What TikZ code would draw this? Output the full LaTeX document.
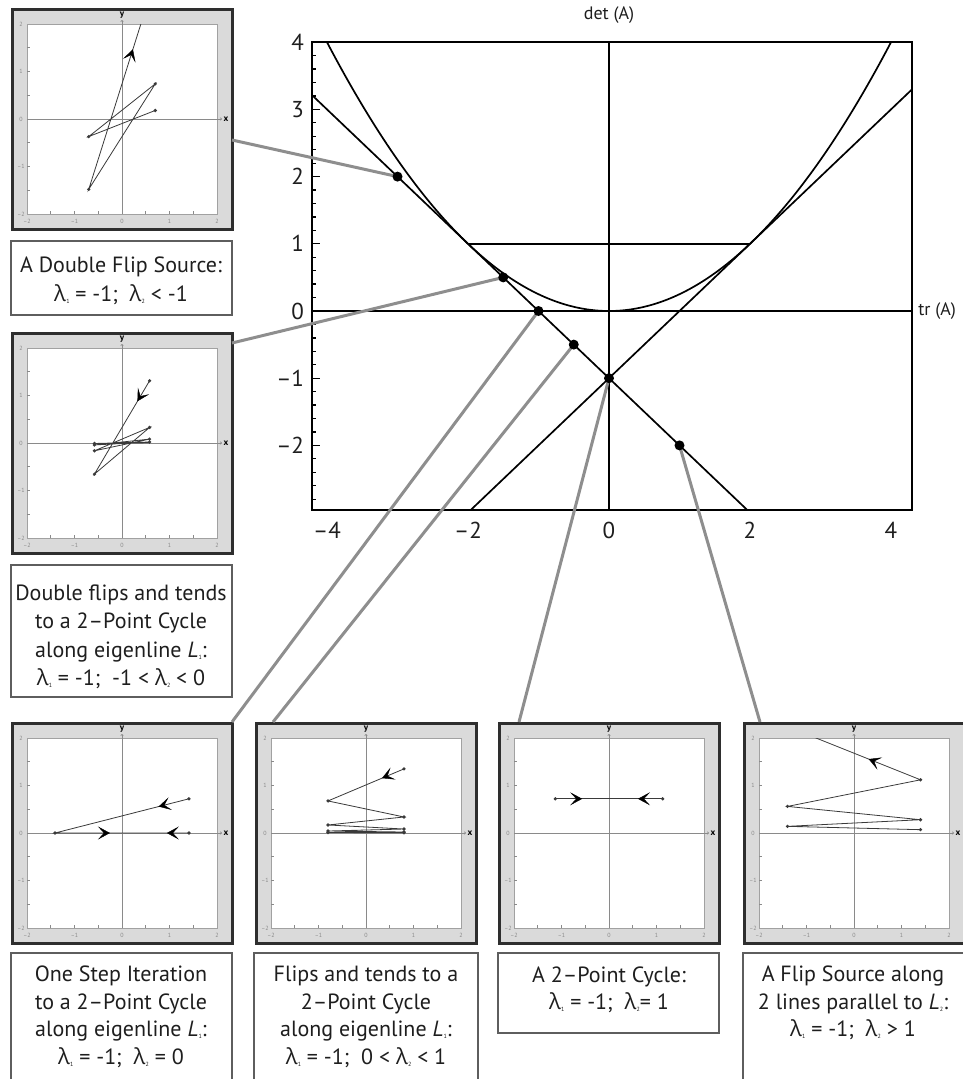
\documentclass[tikz,border=0pt]{standalone}
\usepackage{fontspec}
\setmainfont{PT Sans}
\newfontfamily\grkfont{Open Sans}
\usetikzlibrary{arrows.meta,decorations.markings}

\definecolor{bandgray}{HTML}{DADADA}
\definecolor{framedark}{HTML}{2E2E2E}
\definecolor{conngray}{HTML}{8E8E8E}
\definecolor{boxgray}{HTML}{5E5E5E}
\definecolor{axgray}{HTML}{8A8A8A}
\definecolor{trajcol}{HTML}{3A3A3A}
\definecolor{txtcol}{HTML}{1E1E1E}

\newcommand{\lam}[1]{{\grkfont λ}\kern0.3pt\raisebox{-2pt}{\fontsize{6}{6}\selectfont #1}}
\newcommand{\Lsub}[1]{\textit{L}\kern0.3pt\raisebox{-2pt}{\fontsize{6}{6}\selectfont #1}}

\tikzset{
  panelframe/.style={draw=framedark, line width=3pt, fill=bandgray},
  capbox/.style={draw=boxgray, line width=1.6pt},
  captext/.style={align=center, text=txtcol, font=\fontsize{22}{28.5}\selectfont},
  capbottom/.style={align=center, text=txtcol, font=\fontsize{22}{27.5}\selectfont},
  ticklab/.style={text=axgray, font=\fontsize{6}{6}\selectfont, inner sep=0pt},
  axlab/.style={text=black, font=\fontsize{9}{9}\selectfont\bfseries, inner sep=0pt},
  traj/.style={draw=trajcol, line width=0.8pt},
  midtip/.style={postaction={decorate}, decoration={markings, mark=at position #1 with {\arrow[black]{Stealth[length=12pt,width=13pt,inset=6pt]}}}},
  plotframe/.style={draw=black, line width=2.4pt},
  curve/.style={draw=black, line width=1.7pt},
  conn/.style={draw=conngray, line width=3pt},
  dot/.style={circle, fill=black, inner sep=0pt, minimum size=10pt},
  mainlab/.style={text=txtcol, font=\fontsize{23}{23}\selectfont, inner sep=0pt},
  axname/.style={text=txtcol, font=\fontsize{18}{18}\selectfont, inner sep=0pt},
}

\newcommand{\panelbase}[2]{%
  \begin{scope}[shift={(#1,#2)}]
    \path[panelframe] (-110,-110) rectangle (110,110);
    \fill[white] (-95,-95) rectangle (95,95);
    \draw[axgray!80, line width=0.6pt] (-95,-95) rectangle (95,95);
    \foreach \k in {-3,...,3} {
      \draw[axgray, line width=0.6pt] ({\k*23.75},95) -- ++(0,-3);
      \draw[axgray, line width=0.6pt] (-95,{\k*23.75}) -- ++(3,0);
    }
    \foreach \k/\t in {-2/–2,-1/–1,0/0,1/1,2/2} {
      \node[ticklab] at ({\k*47.5},102) {\t};
      \node[ticklab] at (-101,{-\k*47.5}) {\t};
    }
    \draw[axgray, line width=0.7pt, -{To[length=2pt,width=3pt]}] (-95,0) -- (100,0);
    \draw[axgray, line width=0.7pt, -{To[length=2pt,width=3pt]}] (0,95) -- (0,-99);
    \node[axlab] at (104,0) {x};
    \node[axlab] at (0,-104) {y};
  \end{scope}%
}

\begin{document}
\begin{tikzpicture}[x=1pt,y=-1pt]
\useasboundingbox (0,0) rectangle (962,1079);

% ---------------- main trace-determinant plot ----------------
\begin{scope}[shift={(609,311)}, x=70.5pt, y=67.2pt]
  \begin{scope}
    \clip (-4.21,-2.96) rectangle (4.30,4);
    \draw[curve] (0,-2.96) -- (0,4);
    \draw[curve] (-4.21,0) -- (4.30,0);
    \draw[curve] (-2,1) -- (2,1);
    \draw[curve, domain=-4.3:4.3, samples=120, smooth] plot (\x,{\x*\x/4});
    \draw[curve] (-4.21,3.21) -- (1.96,-2.96);
    \draw[curve] (-1.96,-2.96) -- (4.30,3.30);
  \end{scope}
  \foreach \k in {-14,...,20} {
    \draw[black, line width=1.3pt] (-4.21,\k/5) -- ++(4pt,0);
  }
  \foreach \k in {-2,...,4} {
    \draw[black, line width=1.3pt] (-4.21,\k) -- ++(8pt,0);
  }
  \draw[plotframe] (-4.21,-2.96) rectangle (4.30,4);
  \foreach \k/\t in {4/4,3/3,2/2,1/1,0/0,-1/–1,-2/–2} {
    \node[mainlab, anchor=east] at ([xshift=-8pt]-4.21,\k) {\t};
  }
  \foreach \k/\t in {-4/–4,-2/–2,0/0,2/2,4/4} {
    \node[mainlab] at (\k,-3.27) {\t};
  }
  \node[axname] (detlab) at (0,4.4) {det (A)};
  \node[axname, anchor=west] (trlab) at ([xshift=6pt]4.30,0) {tr (A)};
  \coordinate (dA) at (-3,2);
  \coordinate (dB) at (-1.5,0.5);
  \coordinate (dC) at (-1,0);
  \coordinate (dD) at (-0.5,-0.5);
  \coordinate (dE) at (0,-1);
  \coordinate (dF) at (1,-2);
\end{scope}

% ---------------- phase panels ----------------
\panelbase{122}{119}
\panelbase{122}{443}
\panelbase{122}{833}
\panelbase{366}{833}
\panelbase{609}{833}
\panelbase{854}{833}

% panel 1: double flip source
\begin{scope}[shift={(122,119)}, x=47.5pt, y=47.5pt]
  \clip (-2,-2) rectangle (2,2);
  \draw[traj] (0.7,0.18) -- (-0.7,-0.37) -- (0.7,0.74) -- (-0.7,-1.48) -- (0.7,2.96);
  \foreach \p in {(0.7,0.18),(-0.7,-0.37),(0.7,0.74),(-0.7,-1.48)} \fill[trajcol] \p circle (1.8pt);
  \path[midtip=0.664] (-0.7,-1.48) -- (0.7,2.96);
\end{scope}

% panel 2: double flips to a 2-point cycle
\begin{scope}[shift={(122,443)}, x=47.5pt, y=47.5pt]
  \clip (-2,-2) rectangle (2,2);
  \draw[traj] (0.58,1.31) -- (-0.58,-0.655) -- (0.58,0.3275) -- (-0.58,-0.164) -- (0.58,0.082)
    -- (-0.58,-0.041) -- (0.58,0.0205) -- (-0.58,-0.0102) -- (0.58,0.005);
  \foreach \p in {(0.58,1.31),(-0.58,-0.655),(0.58,0.3275),(-0.58,-0.164),(0.58,0.082),(-0.58,-0.041),(0.58,0.0205),(-0.58,-0.0102)} \fill[trajcol] \p circle (1.8pt);
  \path[midtip=0.22] (0.58,1.31) -- (-0.58,-0.655);
\end{scope}

% panel 5: one step iteration
\begin{scope}[shift={(122,833)}, x=47.5pt, y=47.5pt]
  \clip (-2,-2) rectangle (2,2);
  \draw[traj] (1.41,0.72) -- (-1.41,0) -- (1.41,0);
  \foreach \p in {(1.41,0.72),(-1.41,0),(1.41,0)} \fill[trajcol] \p circle (1.8pt);
  \path[midtip=0.227] (1.41,0.72) -- (-1.41,0);
  \path[midtip=0.41] (-1.41,0) -- (1.41,0);
  \path[midtip=0.165] (1.41,0) -- (-1.41,0);
\end{scope}

% panel 6: flips and tends to a 2-point cycle
\begin{scope}[shift={(366,833)}, x=47.5pt, y=47.5pt]
  \clip (-2,-2) rectangle (2,2);
  \draw[traj] (0.8,1.35) -- (-0.8,0.675) -- (0.8,0.3375) -- (-0.8,0.169) -- (0.8,0.084)
    -- (-0.8,0.042) -- (0.8,0.021) -- (-0.8,0.0105) -- (0.8,0.005);
  \foreach \p in {(0.8,1.35),(-0.8,0.675),(0.8,0.3375),(-0.8,0.169),(0.8,0.084),(-0.8,0.042),(0.8,0.021),(-0.8,0.0105),(0.8,0.005)} \fill[trajcol] \p circle (1.8pt);
  \path[midtip=0.29] (0.8,1.35) -- (-0.8,0.675);
\end{scope}

% panel 7: a 2-point cycle
\begin{scope}[shift={(609,833)}, x=47.5pt, y=47.5pt]
  \clip (-2,-2) rectangle (2,2);
  \draw[traj] (-1.13,0.72) -- (1.13,0.72);
  \foreach \p in {(-1.13,0.72),(1.13,0.72)} \fill[trajcol] \p circle (1.8pt);
  \path[midtip=0.25] (-1.13,0.72) -- (1.13,0.72);
  \path[midtip=0.23] (1.13,0.72) -- (-1.13,0.72);
\end{scope}

% panel 8: a flip source
\begin{scope}[shift={(854,833)}, x=47.5pt, y=47.5pt]
  \clip (-2,-2) rectangle (2,2);
  \draw[traj] (1.4,0.07) -- (-1.4,0.14) -- (1.4,0.28) -- (-1.4,0.56) -- (1.4,1.12) -- (-1.4,2.24);
  \foreach \p in {(1.4,0.07),(-1.4,0.14),(1.4,0.28),(-1.4,0.56),(1.4,1.12)} \fill[trajcol] \p circle (1.8pt);
  \path[midtip=0.39] (1.4,1.12) -- (-1.4,2.24);
\end{scope}

% ---------------- captions ----------------
\draw[capbox] (11,241) rectangle (232,315);
\node[captext] (cap1) at (121,281) {A Double Flip Source:\\ \lam1 = -1;\ \ \lam2 < -1};

\draw[capbox] (11,565) rectangle (232,697);
\node[captext] (cap2) at (121,637) {Double flips and tends\\ to a 2–Point Cycle\\ along eigenline \Lsub1:\\ \lam1 = -1;\ \ -1 < \lam2 < 0};

\draw[capbox] (11,953) rectangle (232,1100);
\node[capbottom] (cap5) at (121,1017) {One Step Iteration\\ to a 2–Point Cycle\\ along eigenline \Lsub1:\\ \lam1 = -1;\ \ \lam2 = 0};

\draw[capbox] (254,953) rectangle (478,1100);
\node[capbottom] (cap6) at (366,1017) {Flips and tends to a\\ 2–Point Cycle\\ along eigenline \Lsub1:\\ \lam1 = -1;\ \ 0 < \lam2 < 1};

\draw[capbox] (498,953) rectangle (719,1033);
\node[capbottom] (cap7) at (609,990) {A 2–Point Cycle:\\ \lam1 = -1;\ \ \lam2= 1};

\draw[capbox] (743,953) rectangle (975,1100);
\node[capbottom] (cap8) at (853,1003) {A Flip Source along\\ 2 lines parallel to \Lsub2:\\ \lam1 = -1;\ \ \lam2 > 1};

% ---------------- connectors ----------------
\coordinate (p1r) at (232,140);
\coordinate (p2r) at (232,343);
\coordinate (p5c) at (232,722);
\coordinate (p6t) at (273,722);
\coordinate (p7t) at (519,722);
\coordinate (p8t) at (760,722);
\draw[conn] (p1r) -- (dA);
\draw[conn] (p2r) -- (dB);
\draw[conn] (dC) -- (p5c);
\draw[conn] (dD) -- (p6t);
\draw[conn] (dE) -- (p7t);
\draw[conn] (dF) -- (p8t);

\node[dot] (dotA) at (dA) {};
\node[dot] (dotB) at (dB) {};
\node[dot] (dotC) at (dC) {};
\node[dot] (dotD) at (dD) {};
\node[dot] (dotE) at (dE) {};
\node[dot] (dotF) at (dF) {};
\end{tikzpicture}
\end{document}
